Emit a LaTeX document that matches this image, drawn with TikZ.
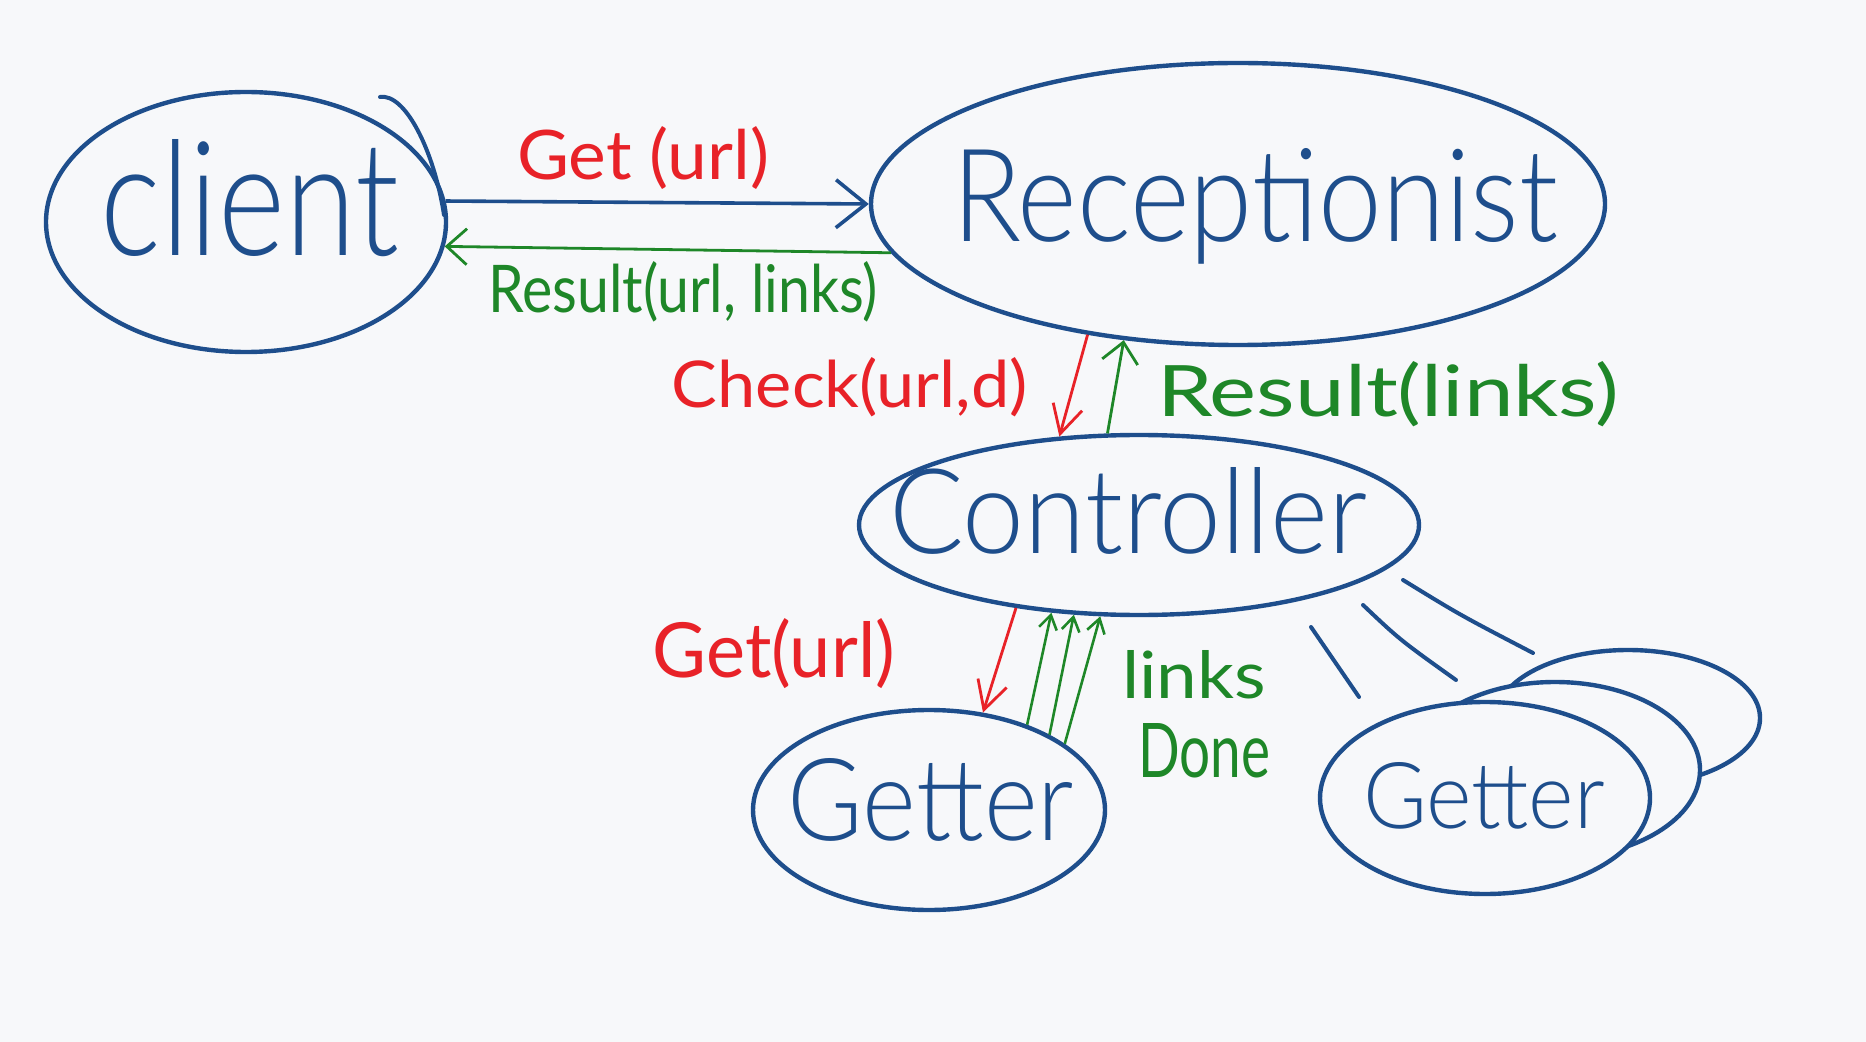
\documentclass[tikz,border=0pt]{standalone}
\usepackage{fontspec}
\setmainfont{Lato Light}
\newfontfamily\labelfont{Lato}
\usetikzlibrary{arrows.meta,shapes.geometric}
\definecolor{inkblue}{RGB}{30,78,140}
\definecolor{inkred}{RGB}{232,34,40}
\definecolor{inkgreen}{RGB}{30,135,40}
\definecolor{paper}{RGB}{247,248,250}
\newcommand\fitt[3]{\resizebox{#1}{#2}{#3}}
\begin{document}
\begin{tikzpicture}[x=0.5pt,y=-0.5pt,
  bubble/.style={ellipse, draw=inkblue, line width=2.2pt, inner sep=0pt, fill=paper},
  word/.style={inner sep=0pt, anchor=base, text=inkblue},
  lbl/.style={inner sep=0pt, anchor=base, font=\labelfont},
  bluearrow/.style={draw=inkblue, line width=1.8pt, -{Straight Barb[length=15pt,width=24pt,line width=1.8pt]}},
  redarrow/.style={draw=inkred, line width=1.4pt, -{Straight Barb[length=14pt,width=15pt,line width=1.4pt]}},
  greenarrow/.style={draw=inkgreen, line width=1.4pt, -{Straight Barb[length=10pt,width=18pt,line width=1.4pt]}},
  smallgreen/.style={draw=inkgreen, line width=1.3pt, -{Straight Barb[length=7pt,width=9pt,line width=1.3pt]}},
  stroke/.style={draw=inkblue, line width=2pt, line cap=round}
]
\useasboundingbox (0,0) rectangle (1866,1042);
\fill[paper] (0,0) rectangle (1866,1042);

% ellipses
\node[bubble, minimum width=200pt, minimum height=130pt] (client) at (246,222) {};
\draw[stroke] (380,97) .. controls (405,93) and (434,150) .. (444,215);
\node[bubble, minimum width=367pt, minimum height=141pt] (recep) at (1238,204) {};
\node[bubble, minimum width=280pt, minimum height=90pt] (ctrl) at (1139,525) {};
\node[bubble, minimum width=176pt, minimum height=100pt] (get1) at (929,810) {};
\node[bubble, minimum width=132pt, minimum height=68pt] (getc) at (1628,718) {};
\node[bubble, minimum width=145pt, minimum height=88pt] (getb) at (1555,770) {};
\node[bubble, minimum width=165pt, minimum height=96pt] (get2) at (1485,798) {};

% words
\node[word] (tclient) at (250,256) {\fitt{149pt}{58pt}{client}};
\node[word] (trecep) at (1255,242) {\fitt{303pt}{46.5pt}{Receptionist}};
\node[word] (tctrl) at (1128,553) {\fitt{239pt}{43pt}{Controller}};
\node[word] (tget1) at (931,840) {\fitt{143pt}{41pt}{Getter}};
\node[word] (tget2) at (1484,828) {\fitt{121pt}{33pt}{Getter}};

% connectors
\draw[bluearrow] (client.6) -- (recep.180);
\draw[greenarrow] (recep.188) -- (client.-7);
\draw[redarrow] (recep.221) -- (ctrl.132);
\draw[greenarrow] (ctrl.109) -- (recep.230);
\draw[redarrow] (ctrl.214) -- (get1.61);
\draw[smallgreen] (get1.41) -- (ctrl.225);
\draw[smallgreen] (get1.32) -- (ctrl.234);
\draw[smallgreen] (get1.26) -- (ctrl.247);

% strokes toward the other getters
\coordinate (s1a) at (1311,627); \coordinate (s1b) at (1359,697);
\coordinate (s2a) at (1363,605); \coordinate (s2b) at (1456,680);
\coordinate (s3a) at (1403,580); \coordinate (s3b) at (1533,653);
\draw[stroke] (s1a) -- (s1b);
\draw[stroke] (s2a) .. controls (1400,640) .. (s2b);
\draw[stroke] (s3a) .. controls (1460,615) .. (s3b);

% labels
\node[lbl, text=inkred] (lget) at (643,180) {\fitt{126pt}{26.5pt}{Get (url)}};
\node[lbl, text=inkgreen] (lres) at (683,313) {\fitt{195pt}{25.5pt}{Result(url, links)}};
\node[lbl, text=inkred] (lcheck) at (850,408) {\fitt{178pt}{25pt}{Check(url,d)}};
\node[lbl, text=inkgreen] (lres2) at (1388,417) {\fitt{231pt}{27.5pt}{Result(links)}};
\node[lbl, text=inkred] (lget2) at (774,677) {\fitt{121pt}{29.5pt}{Get(url)}};
\node[lbl, text=inkgreen] (llinks) at (1194,698) {\fitt{72pt}{24pt}{links}};
\node[lbl, text=inkgreen] (ldone) at (1204,777) {\fitt{66pt}{27pt}{Done}};
\end{tikzpicture}
\end{document}
